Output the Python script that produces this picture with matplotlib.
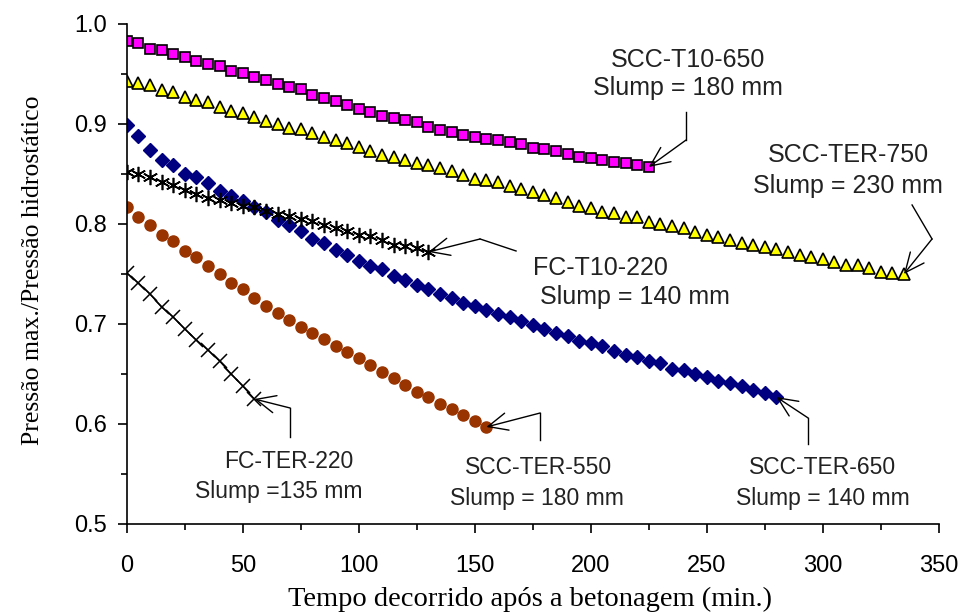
import matplotlib.pyplot as plt
import numpy as np
from matplotlib.ticker import MultipleLocator, FormatStrFormatter

# tempo (min) de cada série: leituras a cada 5 min
t_t10_650 = np.arange(0, 226, 5)
t_ter_750 = np.arange(0, 336, 5)
t_ter_650 = np.arange(0, 281, 5)
t_fc_t10 = np.arange(0, 131, 5)
t_ter_550 = np.arange(0, 156, 5)
t_fc_ter = np.arange(0, 56, 5)

scc_t10_650 = [0.983, 0.981, 0.975, 0.974, 0.970, 0.967, 0.963, 0.960, 0.958, 0.953,
               0.951, 0.947, 0.944, 0.940, 0.937, 0.935, 0.929, 0.926, 0.923, 0.919,
               0.915, 0.912, 0.908, 0.906, 0.904, 0.902, 0.897, 0.894, 0.892, 0.889,
               0.887, 0.885, 0.884, 0.882, 0.880, 0.876, 0.875, 0.873, 0.870, 0.867,
               0.866, 0.864, 0.862, 0.861, 0.859, 0.857]

scc_ter_750 = [0.943, 0.941, 0.939, 0.934, 0.932, 0.927, 0.924, 0.922, 0.917, 0.913,
               0.911, 0.907, 0.903, 0.900, 0.896, 0.895, 0.891, 0.887, 0.884, 0.881,
               0.877, 0.873, 0.869, 0.867, 0.864, 0.861, 0.859, 0.856, 0.853, 0.849,
               0.845, 0.844, 0.842, 0.838, 0.835, 0.832, 0.829, 0.826, 0.822, 0.818,
               0.816, 0.812, 0.811, 0.807, 0.807, 0.802, 0.800, 0.798, 0.796, 0.792,
               0.789, 0.787, 0.784, 0.781, 0.779, 0.777, 0.775, 0.772, 0.769, 0.767,
               0.765, 0.762, 0.759, 0.759, 0.756, 0.752, 0.751, 0.750]

scc_ter_650 = [0.899, 0.888, 0.874, 0.864, 0.859, 0.850, 0.847, 0.841, 0.833, 0.828,
               0.823, 0.817, 0.812, 0.804, 0.799, 0.793, 0.785, 0.781, 0.774, 0.769,
               0.763, 0.758, 0.755, 0.748, 0.744, 0.739, 0.735, 0.730, 0.726, 0.721,
               0.718, 0.714, 0.710, 0.707, 0.703, 0.699, 0.695, 0.691, 0.688, 0.683,
               0.681, 0.678, 0.673, 0.669, 0.667, 0.663, 0.661, 0.655, 0.654, 0.650,
               0.647, 0.643, 0.641, 0.638, 0.634, 0.631, 0.627]

fc_t10_220 = [0.852, 0.850, 0.847, 0.842, 0.839, 0.834, 0.830, 0.826, 0.824, 0.821,
              0.818, 0.817, 0.813, 0.810, 0.808, 0.805, 0.803, 0.799, 0.796, 0.793,
              0.789, 0.788, 0.784, 0.779, 0.778, 0.776, 0.772]

scc_ter_550 = [0.817, 0.807, 0.799, 0.789, 0.783, 0.773, 0.767, 0.758, 0.750, 0.741,
               0.735, 0.726, 0.718, 0.711, 0.704, 0.697, 0.691, 0.685, 0.678, 0.672,
               0.666, 0.659, 0.652, 0.646, 0.639, 0.632, 0.627, 0.620, 0.615, 0.609,
               0.603, 0.597]

fc_ter_220 = [0.751, 0.741, 0.730, 0.717, 0.707, 0.695, 0.684, 0.674, 0.663, 0.650,
              0.638, 0.625]

fig = plt.figure(figsize=(9.66, 6.13), dpi=100)
ax = fig.add_axes([0.1312, 0.1452, 0.8406, 0.8157])

ax.plot(t_t10_650, scc_t10_650, ls='none', marker='s', ms=7.5, mfc='#FF00FF', mec='black', mew=1.2)
ax.plot(t_ter_750, scc_ter_750, ls='none', marker='^', ms=9, mfc='#FFFF00', mec='black', mew=1.2)
ax.plot(t_ter_650, scc_ter_650, ls='none', marker='D', ms=6.8, color='#000080')
ax.plot(t_fc_t10, fc_t10_220, ls='none', marker=(6, 2, 0), ms=11, color='black', mew=1.2)
ax.plot(t_ter_550, scc_ter_550, ls='none', marker='o', ms=8, color='#993300')
ax.plot(t_fc_ter, fc_ter_220, color='black', lw=1, marker='x', ms=10, mew=1.1)

ax.set_xlim(0, 350)
ax.set_ylim(0.5, 1.0)
ax.xaxis.set_major_locator(MultipleLocator(50))
ax.xaxis.set_minor_locator(MultipleLocator(25))
ax.yaxis.set_major_locator(MultipleLocator(0.1))
ax.yaxis.set_minor_locator(MultipleLocator(0.05))
ax.yaxis.set_major_formatter(FormatStrFormatter('%.1f'))
for s in ['top', 'right']:
    ax.spines[s].set_visible(False)
for s in ['left', 'bottom']:
    ax.spines[s].set_linewidth(1.2)
ax.tick_params(which='major', direction='out', length=6.5, width=1.2)
ax.tick_params(which='minor', direction='out', length=4, width=1.2)
ax.tick_params(axis='x', labelsize=17, pad=16)
ax.tick_params(axis='y', labelsize=17, pad=8)
for lab in ax.get_xticklabels() + ax.get_yticklabels():
    lab.set_family('Liberation Sans')

ax.set_xlabel('Tempo decorrido após a betonagem (min.)', family='Liberation Serif', fontsize=20.5)
ax.set_ylabel('Pressão max./Pressão hidrostático', family='Liberation Serif', fontsize=18.5)
ax.xaxis.set_label_coords(0.497, -0.125)
ax.yaxis.set_label_coords(-0.102, 0.508)

# setas das anotações
setas = [
    [(241.1, 0.912), (241.1, 0.884), (225, 0.857)],
    [(338.5, 0.819), (347.1, 0.785), (335, 0.750)],
    [(167.8, 0.773), (152.3, 0.785), (130, 0.772)],
    [(70.4, 0.587), (70.4, 0.616), (55, 0.625)],
    [(178.2, 0.584), (178.2, 0.611), (155, 0.597)],
    [(293.7, 0.580), (293.7, 0.606), (280, 0.627)],
]
for p in setas:
    ax.plot([p[0][0], p[1][0]], [p[0][1], p[1][1]], color='black', lw=1, clip_on=False)
    ax.annotate('', xy=p[2], xytext=p[1],
                arrowprops=dict(arrowstyle='->,head_length=1.0,head_width=0.45', lw=1,
                                mutation_scale=14, color='black', shrinkA=0, shrinkB=0))

txt = dict(family='Liberation Sans', color='#222222', va='center')
ax.text(241.9, 0.964, 'SCC-T10-650', fontsize=18, ha='center', **txt)
ax.text(241.9, 0.936, 'Slump = 180 mm', fontsize=18, ha='center', **txt)
ax.text(310.9, 0.869, 'SCC-TER-750', fontsize=18, ha='center', **txt)
ax.text(310.9, 0.838, 'Slump = 230 mm', fontsize=18, ha='center', **txt)
ax.text(175.1, 0.756, 'FC-T10-220', fontsize=18, ha='left', **txt)
ax.text(178.1, 0.727, 'Slump = 140 mm', fontsize=18, ha='left', **txt)
ax.text(70.0, 0.562, 'FC-TER-220', fontsize=16.5, ha='center', **txt)
ax.text(65.7, 0.532, 'Slump =135 mm', fontsize=16.5, ha='center', **txt)
ax.text(177.3, 0.556, 'SCC-TER-550', fontsize=16.5, ha='center', **txt)
ax.text(176.9, 0.525, 'Slump = 180 mm', fontsize=16.5, ha='center', **txt)
ax.text(300.1, 0.556, 'SCC-TER-650', fontsize=16.5, ha='center', **txt)
ax.text(300.1, 0.525, 'Slump = 140 mm', fontsize=16.5, ha='center', **txt)

fig.savefig('out.png', dpi=100)
